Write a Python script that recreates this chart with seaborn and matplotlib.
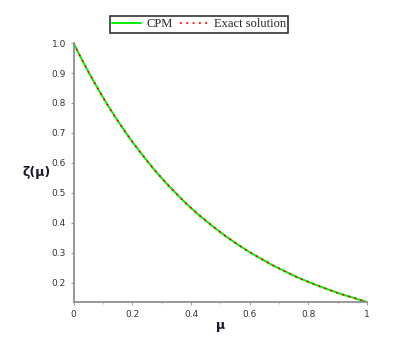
import matplotlib
matplotlib.use("Agg")
import pandas as pd
import seaborn as sns
import matplotlib.pyplot as plt
from matplotlib.ticker import MultipleLocator

# values
mu = [0.0, 0.025, 0.05, 0.075, 0.1, 0.125, 0.15, 0.175, 0.2, 0.225,
      0.25, 0.275, 0.3, 0.325, 0.35, 0.375, 0.4, 0.425, 0.45, 0.475,
      0.5, 0.525, 0.55, 0.575, 0.6, 0.625, 0.65, 0.675, 0.7, 0.725,
      0.75, 0.775, 0.8, 0.825, 0.85, 0.875, 0.9, 0.925, 0.95, 0.975, 1.0]
cpm = [1.000, 0.951, 0.905, 0.861, 0.819, 0.779, 0.741, 0.705, 0.670, 0.638,
       0.607, 0.577, 0.549, 0.522, 0.497, 0.472, 0.449, 0.427, 0.407, 0.387,
       0.368, 0.350, 0.333, 0.317, 0.301, 0.287, 0.273, 0.259, 0.247, 0.235,
       0.223, 0.212, 0.202, 0.192, 0.183, 0.174, 0.165, 0.157, 0.150, 0.142, 0.135]
exact = [1.000, 0.951, 0.905, 0.861, 0.819, 0.779, 0.741, 0.705, 0.670, 0.638,
         0.607, 0.577, 0.549, 0.522, 0.497, 0.472, 0.449, 0.427, 0.407, 0.387,
         0.368, 0.350, 0.333, 0.317, 0.301, 0.287, 0.273, 0.259, 0.247, 0.235,
         0.223, 0.212, 0.202, 0.192, 0.183, 0.174, 0.165, 0.157, 0.150, 0.142, 0.135]
xticks = [0, 0.2, 0.4, 0.6, 0.8, 1]
xlabels = ["0", "0.2", "0.4", "0.6", "0.8", "1"]

df = pd.DataFrame({"mu": mu, "CPM": cpm, "Exact solution": exact})

sns.set_style("white")
fig = plt.figure(figsize=(4, 3.37), dpi=100)
ax = fig.add_axes([0.184, 0.104, 0.734, 0.768])

sns.lineplot(data=df, x="mu", y="CPM", ax=ax, color="#00ee00", lw=1.4, label="CPM")
sns.lineplot(data=df, x="mu", y="Exact solution", ax=ax, color="red",
             lw=1.3, linestyle=(0, (1, 2.5)), label="Exact solution")

ax.set_xlim(0, 1)
ax.set_ylim(0.135, 1.0)
ax.set_xticks(xticks)
ax.set_xticklabels(xlabels)
ax.xaxis.set_minor_locator(MultipleLocator(0.1))
ax.yaxis.set_major_locator(MultipleLocator(0.1))
ax.tick_params(axis="both", which="major", direction="out", length=2.5, width=0.6,
               color="#888888", labelsize=6.5, labelcolor="#333333", pad=3,
               bottom=True, left=True)
ax.tick_params(axis="both", which="minor", direction="out", length=1.5, width=0.5,
               color="#aaaaaa", bottom=True, left=True)

for side in ["top", "right"]:
    ax.spines[side].set_visible(False)
for side in ["left", "bottom"]:
    ax.spines[side].set_color("#888888")
    ax.spines[side].set_linewidth(1.2)

ax.set_xlabel("μ", fontsize=9, fontweight="bold", color="#1a1a2e", labelpad=0)
ax.set_ylabel("ζ(μ)", fontsize=9, fontweight="bold", color="#1a1a2e",
              rotation=0, labelpad=11, va="center")

leg = ax.legend(loc="center", bbox_to_anchor=(0.427, 1.073), ncol=2,
                frameon=True, fancybox=False, prop={"family": "Liberation Serif", "size": 9},
                handlelength=2.3, columnspacing=0.6, handletextpad=0.4,
                borderpad=0.2, borderaxespad=0)
leg.get_frame().set_edgecolor("black")
leg.get_frame().set_linewidth(1.2)

plt.savefig("out.png", dpi=100)
plt.close()
